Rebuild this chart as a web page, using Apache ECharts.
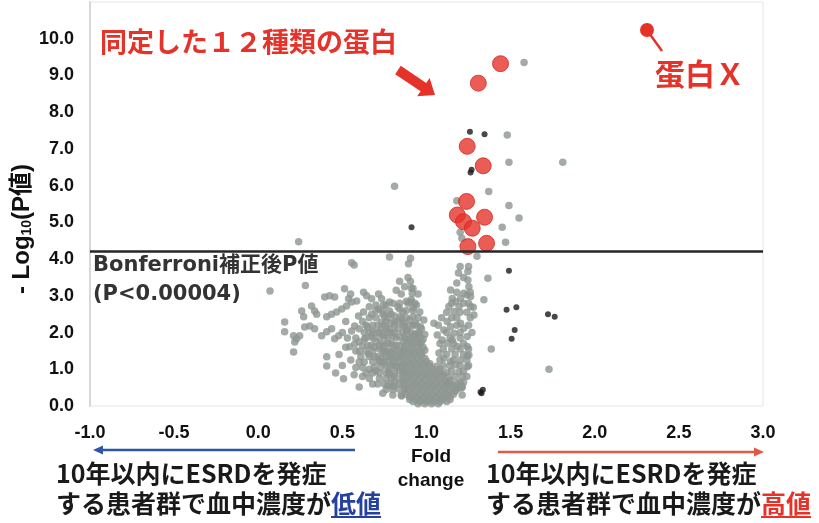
<!DOCTYPE html>
<html>
<head>
<meta charset="utf-8">
<script src="https://cdn.jsdelivr.net/npm/echarts@6/dist/echarts.min.js"></script>
<style>
  html, body { margin: 0; padding: 0; background: #fff; }
  #chart { width: 819px; height: 523px; }
</style>
</head>
<body>
<div id="chart"></div>
<script>
// [fold change, -log10(P)]
const grayUpper = [
  [1.58, 9.35], [1.48, 7.38], [1.49, 6.64], [1.81, 6.64], [0.81, 5.98], [1.37, 5.84],
  [1.49, 5.46], [1.55, 5.12], [1.45, 4.87], [1.47, 4.46], [1.18, 5.59], [1.20, 4.73],
  [1.21, 4.57], [0.24, 4.47], [1.30, 4.08]
];

const grayLeft = [
  [0.07, 3.13], [0.28, 3.28], [0.555, 3.90], [0.57, 3.84], [0.78, 4.06], [0.905, 4.02],
  [0.893, 3.87], [0.84, 3.40], [0.513, 3.19], [0.395, 2.97], [0.424, 3.0], [0.454, 2.97],
  [0.537, 2.92], [0.549, 3.05], [0.626, 3.1], [0.644, 3.0], [0.674, 2.92], [0.715, 3.05],
  [0.733, 2.92], [0.78, 2.83], [0.317, 2.72], [0.335, 2.59], [0.347, 2.5], [0.258, 2.59],
  [0.27, 2.43], [0.157, 2.29], [0.157, 2.02], [0.21, 1.91], [0.228, 1.83], [0.217, 1.74],
  [0.246, 1.91], [0.21, 1.47], [0.276, 2.15], [0.306, 2.18], [0.335, 2.1], [0.407, 2.43],
  [0.436, 2.5], [0.466, 2.56], [0.496, 2.64], [0.525, 2.72], [0.555, 2.83], [0.585, 2.86],
  [0.377, 1.91], [0.407, 2.02], [0.436, 2.1], [0.454, 1.83], [0.478, 1.91], [0.407, 1.34],
  [0.407, 1.09], [0.507, 0.74], [0.60, 0.52], [0.543, 1.61], [0.573, 1.69], [0.602, 1.5],
  [0.632, 1.83], [0.674, 1.91], [0.656, 1.42], [0.69, 1.34], [0.721, 1.23], [0.751, 1.2],
  [0.774, 0.93], [0.804, 0.82], [0.804, 0.54], [0.834, 0.46], [0.852, 0.27], [0.733, 2.29],
  [0.751, 2.45], [0.78, 2.59], [0.84, 2.64], [0.852, 2.37], [0.869, 2.18], [0.715, 2.64],
  [0.674, 2.5], [0.626, 2.56], [0.596, 2.45], [0.573, 2.18], [0.555, 2.04],
  [0.52, 2.30], [0.50, 2.00], [0.53, 1.85], [0.60, 2.10], [0.62, 2.30], [0.65, 2.15],
  [0.68, 2.05], [0.70, 1.75], [0.72, 1.55], [0.74, 1.95], [0.76, 2.10], [0.77, 1.70],
  [0.79, 1.45], [0.81, 2.00], [0.82, 1.65], [0.83, 2.30], [0.86, 2.55], [0.88, 2.85],
  [0.85, 3.05], [0.87, 3.25], [0.82, 3.15], [0.63, 1.20], [0.66, 1.00], [0.70, 0.95],
  [0.72, 0.75], [0.75, 1.45], [0.78, 1.25], [0.80, 1.10], [0.83, 1.30], [0.84, 0.95],
  [0.86, 0.70], [0.81, 0.65], [0.77, 0.55], [0.74, 0.35], [0.68, 0.60], [0.58, 1.05],
  [0.55, 1.25], [0.48, 1.40], [0.50, 1.10], [0.46, 0.90], [0.52, 1.60], [0.57, 0.85],
  [0.62, 0.80], [0.65, 1.65], [0.60, 1.75], [0.69, 1.60], [0.79, 2.25], [0.81, 2.45],
  [0.76, 2.75], [0.70, 2.75], [0.66, 2.70], [0.92, 3.20], [0.89, 3.50], [0.91, 2.90],
  [0.94, 2.75], [0.95, 3.05], [0.905, 3.39], [0.909, 3.21], [0.915, 3.07], [0.83, 2.70],
  [0.905, 2.83], [0.92, 2.67], [0.96, 2.56], [0.745, 2.75], [0.984, 2.34], [0.964, 2.16],
  [0.954, 1.98], [0.92, 2.43], [0.935, 2.26], [0.845, 2.43], [0.863, 2.26], [0.887, 2.07],
  [0.74, 2.50], [0.79, 2.50], [0.76, 2.30], [0.81, 2.30], [0.73, 2.10], [0.78, 2.10],
  [0.83, 2.10], [0.75, 1.90], [0.80, 1.90], [0.84, 1.90], [0.74, 1.70], [0.79, 1.70],
  [0.76, 1.50], [0.81, 1.50], [0.73, 1.30], [0.80, 1.30], [0.76, 1.10], [0.82, 1.10],
  [0.78, 0.90], [0.88, 2.05], [0.92, 2.20], [0.95, 2.40], [0.90, 2.35], [0.97, 2.10],
  [0.93, 1.95], [0.99, 1.95]
];

const grayLeftDense = [
  [0.80, 2.80], [0.84, 2.80], [0.89, 2.80], [0.93, 2.80],
  [0.70, 2.60], [0.74, 2.60], [0.88, 2.60], [0.92, 2.60],
  [0.66, 2.40], [0.70, 2.40], [0.77, 2.40], [0.88, 2.40],
  [0.64, 2.20], [0.68, 2.20], [0.71, 2.20], [0.75, 2.20], [0.81, 2.20], [0.86, 2.20], [0.90, 2.20], [0.94, 2.20],
  [0.63, 2.00], [0.66, 2.00], [0.70, 2.00], [0.72, 2.00], [0.77, 2.00], [0.79, 2.00], [0.86, 2.00], [0.91, 2.00], [0.95, 2.00],
  [0.58, 1.85], [0.64, 1.85], [0.68, 1.85], [0.72, 1.85], [0.77, 1.85], [0.82, 1.85], [0.87, 1.85],
  [0.62, 1.65], [0.67, 1.65], [0.72, 1.65], [0.75, 1.65], [0.80, 1.65], [0.84, 1.65],
  [0.58, 1.50], [0.64, 1.50], [0.68, 1.50], [0.74, 1.50], [0.78, 1.50], [0.83, 1.50], [0.86, 1.50],
  [0.61, 1.35], [0.66, 1.35], [0.71, 1.35], [0.76, 1.35], [0.78, 1.35], [0.82, 1.35], [0.85, 1.35],
  [0.60, 1.20], [0.68, 1.20], [0.72, 1.20], [0.74, 1.20], [0.80, 1.20], [0.84, 1.20],
  [0.62, 1.05], [0.69, 1.05], [0.73, 1.05], [0.78, 1.05], [0.82, 1.05], [0.85, 1.05],
  [0.64, 0.90], [0.68, 0.90], [0.72, 0.90], [0.76, 0.90], [0.81, 0.90], [0.86, 0.90],
  [0.66, 0.75], [0.76, 0.75], [0.79, 0.75], [0.83, 0.75],
  [0.71, 0.60], [0.75, 0.60], [0.79, 0.60], [0.84, 0.60],
  [0.76, 0.45], [0.80, 0.45], [0.87, 0.45],
  [0.80, 0.30], [0.85, 0.30]
];

const grayCore = [
  [0.88, 1.90], [0.92, 1.90], [0.96, 1.90],
  [0.86, 1.75], [0.90, 1.75], [0.94, 1.75], [0.97, 1.75],
  [0.87, 1.60], [0.91, 1.60], [0.95, 1.60], [0.98, 1.60],
  [0.85, 1.45], [0.89, 1.45], [0.93, 1.45], [0.97, 1.45],
  [0.87, 1.30], [0.91, 1.30], [0.95, 1.30], [0.99, 1.30],
  [0.86, 1.15], [0.90, 1.15], [0.94, 1.15], [0.98, 1.15], [1.02, 1.15],
  [0.88, 1.00], [0.92, 1.00], [0.96, 1.00], [1.00, 1.00], [1.04, 1.00], [1.08, 1.00],
  [0.86, 0.85], [0.90, 0.85], [0.94, 0.85], [0.98, 0.85], [1.02, 0.85], [1.06, 0.85], [1.10, 0.85],
  [0.87, 0.70], [0.91, 0.70], [0.95, 0.70], [0.99, 0.70], [1.03, 0.70], [1.07, 0.70], [1.11, 0.70], [1.14, 0.70],
  [0.88, 0.55], [0.92, 0.55], [0.96, 0.55], [1.00, 0.55], [1.04, 0.55], [1.08, 0.55], [1.12, 0.55], [1.16, 0.55],
  [0.89, 0.40], [0.93, 0.40], [0.97, 0.40], [1.01, 0.40], [1.05, 0.40], [1.09, 0.40], [1.13, 0.40], [1.17, 0.40],
  [0.90, 0.25], [0.94, 0.25], [0.98, 0.25], [1.02, 0.25], [1.06, 0.25], [1.10, 0.25], [1.14, 0.25],
  [0.92, 0.12], [0.96, 0.12], [1.00, 0.12], [1.04, 0.12], [1.08, 0.12], [1.12, 0.12],
  [0.90, 1.82], [0.94, 1.82], [0.98, 1.82],
  [0.88, 1.68], [0.92, 1.68], [0.96, 1.68],
  [0.87, 1.52], [0.91, 1.52], [0.95, 1.52], [0.99, 1.52],
  [0.89, 1.38], [0.93, 1.38], [0.97, 1.38],
  [0.88, 1.22], [0.92, 1.22], [0.96, 1.22], [1.00, 1.22],
  [0.86, 1.08], [0.90, 1.08], [0.94, 1.08], [0.98, 1.08], [1.02, 1.08], [1.06, 1.08],
  [0.88, 0.92], [0.92, 0.92], [0.96, 0.92], [1.00, 0.92], [1.04, 0.92], [1.08, 0.92], [1.12, 0.92],
  [0.89, 0.78], [0.93, 0.78], [0.97, 0.78], [1.01, 0.78], [1.05, 0.78], [1.09, 0.78], [1.13, 0.78],
  [0.86, 0.62], [0.90, 0.62], [0.94, 0.62], [0.98, 0.62], [1.02, 0.62], [1.06, 0.62], [1.10, 0.62], [1.14, 0.62], [1.18, 0.62],
  [0.87, 0.48], [0.91, 0.48], [0.95, 0.48], [0.99, 0.48], [1.03, 0.48], [1.07, 0.48], [1.11, 0.48], [1.15, 0.48], [1.19, 0.48],
  [0.88, 0.32], [0.92, 0.32], [0.96, 0.32], [1.00, 0.32], [1.04, 0.32], [1.08, 0.32], [1.12, 0.32], [1.16, 0.32],
  [0.90, 0.18], [0.94, 0.18], [0.98, 0.18], [1.02, 0.18], [1.06, 0.18], [1.10, 0.18], [1.14, 0.18],
  [0.95, 0.06], [0.99, 0.06], [1.03, 0.06], [1.07, 0.06]
];

const grayRight = [
  [1.19, 3.62], [1.18, 3.35], [1.246, 3.66], [1.246, 3.43], [1.252, 3.25], [1.242, 3.02],
  [1.365, 3.48], [1.143, 3.16], [1.153, 2.93], [1.173, 2.84], [1.202, 2.93], [1.222, 3.07],
  [1.262, 2.98], [1.133, 2.71], [1.163, 2.57], [1.193, 2.71], [1.262, 2.71], [1.282, 2.48],
  [1.341, 2.89], [1.123, 2.30], [1.143, 2.16], [1.103, 2.07], [1.163, 1.98], [1.202, 2.25],
  [1.222, 2.12], [1.242, 1.89], [1.044, 2.25], [1.064, 1.93], [1.093, 1.80], [1.123, 1.71],
  [1.153, 1.80], [1.183, 1.62], [1.242, 1.62], [1.252, 1.39], [1.074, 1.44], [1.103, 1.30],
  [1.143, 1.21], [1.173, 1.12], [1.202, 1.25], [1.193, 0.93], [1.212, 0.80], [1.242, 1.07],
  [1.212, 0.53], [1.173, 0.44], [1.123, 0.62], [1.385, 1.55], [1.728, 1.00], [1.242, 1.36],
  [1.212, 0.30], [1.278, 2.69],
  [1.20, 3.80], [1.25, 3.80], [1.22, 3.50], [1.18, 3.10], [1.26, 3.10],
  [1.15, 2.80], [1.22, 2.80], [1.25, 2.80], [1.12, 2.55], [1.20, 2.55], [1.24, 2.55],
  [1.09, 2.40], [1.15, 2.40], [1.18, 2.40], [1.26, 2.40], [1.07, 2.20], [1.18, 2.20], [1.25, 2.20],
  [1.12, 2.00], [1.20, 2.00], [1.27, 2.00], [1.14, 1.85], [1.20, 1.85],
  [1.08, 1.70], [1.16, 1.70], [1.22, 1.70], [1.10, 1.55], [1.15, 1.55], [1.20, 1.55], [1.25, 1.55],
  [1.12, 1.40], [1.17, 1.40], [1.22, 1.40], [1.08, 1.25], [1.16, 1.25], [1.24, 1.25],
  [1.10, 1.10], [1.14, 1.10], [1.20, 1.10], [1.25, 1.10], [1.15, 0.95], [1.22, 0.95],
  [1.17, 0.80], [1.24, 0.80], [1.20, 0.65], [1.22, 0.65], [1.21, 0.50]
];

const redPoints = [
  [1.440, 9.32], [1.308, 8.79], [1.242, 7.07], [1.337, 6.54], [1.238, 5.57], [1.183, 5.20],
  [1.220, 5.02], [1.272, 4.84], [1.345, 5.14], [1.357, 4.43], [1.246, 4.34]
];

const blackPoints = [
  [1.258, 7.47], [1.345, 7.40], [1.262, 6.36], [1.268, 6.43], [0.911, 4.87], [1.490, 3.68],
  [1.476, 2.62], [1.534, 2.69], [1.722, 2.50], [1.762, 2.43], [1.524, 2.07], [1.506, 1.83],
  [1.327, 0.35], [1.321, 0.38], [1.335, 0.44]
];

const bonferroniLine = 4.2;

const titleText = "同定した１２種類の蛋白";
const proteinXText = "蛋白Ｘ";
const bonferroniText = ["Bonferroni補正後P値", "(P<0.00004)"];
const bottomLine1 = "10年以内にESRDを発症";
const bottomLine2 = "する患者群で血中濃度が";

const latin = '"Liberation Sans", Arial, "Noto Sans CJK JP", sans-serif';
const jp = '"Noto Sans CJK JP", sans-serif';
const red = "#e5332a";

const chart = echarts.init(document.getElementById("chart"));

function jpLines(x, word, color) {
  return [
    {
      type: "text", x: x, y: 473,
      style: { text: bottomLine1, font: "bold 25px " + jp, fill: "#1a1a1a", verticalAlign: "middle" }
    },
    {
      type: "text", x: x, y: 503,
      style: {
        text: "{a|" + bottomLine2 + "}{b|" + word + "}",
        verticalAlign: "middle",
        rich: {
          a: { font: "bold 25px " + jp, fill: "#1a1a1a" },
          b: { font: "bold 25px " + jp, fill: color }
        }
      }
    },
    {
      type: "line",
      shape: { x1: x + 11 * 25, y1: 517, x2: x + 13 * 25, y2: 517 },
      style: { stroke: color, lineWidth: 2 }
    }
  ];
}

const option = {
  animation: false,
  backgroundColor: "#fff",
  grid: { left: 90, right: 56, top: 2, bottom: 117, show: true, borderColor: "#e6e6e6", borderWidth: 1 },
  xAxis: {
    type: "value", min: -1, max: 3, interval: 0.5,
    axisLine: { show: false },
    axisTick: { show: false },
    splitLine: { show: false },
    axisLabel: {
      margin: 18, color: "#111", fontSize: 18, fontWeight: "bold", fontFamily: latin,
      formatter: (v) => v.toFixed(1)
    }
  },
  yAxis: {
    type: "value", min: 0, max: 11, interval: 1,
    axisLine: { show: true, onZero: false, lineStyle: { color: "#d8d8d8", width: 2 } },
    axisTick: { show: false },
    splitLine: { show: false },
    axisLabel: {
      margin: 16, color: "#111", fontSize: 18, fontWeight: "bold", fontFamily: latin,
      formatter: (v) => (v > 10 ? "" : v.toFixed(1))
    }
  },
  series: [
    {
      type: "scatter",
      data: grayUpper.concat(grayLeft, grayLeftDense, grayCore, grayRight),
      symbolSize: 7.5,
      itemStyle: { color: "#8d9691" },
      markLine: {
        silent: true,
        symbol: "none",
        label: { show: false },
        lineStyle: { color: "#262626", width: 2.5, type: "solid" },
        data: [{ yAxis: bonferroniLine }]
      },
      z: 2
    },
    {
      type: "scatter",
      data: blackPoints,
      symbolSize: 6,
      itemStyle: { color: "#1a1a1a" },
      z: 3
    },
    {
      type: "scatter",
      data: redPoints,
      symbolSize: 16,
      itemStyle: { color: red, borderColor: "#cf2a22", borderWidth: 1 },
      z: 4
    }
  ],
  graphic: [
    {
      type: "text", x: 100, y: 42,
      style: { text: titleText, font: "bold 27px " + jp, fill: red, verticalAlign: "middle" }
    },
    {
      type: "polygon",
      shape: { points: [[400.8, 65.8], [426.2, 82.9], [429.6, 78], [435, 95], [417.2, 96.2], [420.6, 91.3], [395.2, 74.2]] },
      style: { fill: red }
    },
    {
      type: "line",
      shape: { x1: 649, y1: 33, x2: 662, y2: 51 },
      style: { stroke: red, lineWidth: 2.5 }
    },
    { type: "circle", shape: { cx: 647, cy: 30, r: 7 }, style: { fill: red } },
    {
      type: "text", x: 655, y: 74,
      style: { text: proteinXText, font: "bold 30px " + jp, fill: red, verticalAlign: "middle" }
    },
    {
      type: "text", x: 93, y: 266,
      style: { text: bonferroniText[0], font: 'bold 21px "DejaVu Sans", "Noto Sans CJK JP", sans-serif', fill: "#333", verticalAlign: "middle" }
    },
    {
      type: "text", x: 93, y: 295,
      style: { text: bonferroniText[1], font: 'bold 21px "DejaVu Sans", sans-serif', fill: "#333", verticalAlign: "middle" }
    },
    {
      type: "text", x: 22, y: 229, rotation: Math.PI / 2,
      style: {
        text: "{a|- Log}{s|10}{a|(P値)}",
        align: "center", verticalAlign: "middle",
        rich: {
          a: { font: "bold 24px " + latin, fill: "#111" },
          s: { font: "bold 14px " + latin, fill: "#111", verticalAlign: "bottom" }
        }
      }
    },
    {
      type: "text", x: 431, y: 457,
      style: { text: "Fold", font: "bold 19px " + latin, fill: "#111", align: "center", verticalAlign: "middle" }
    },
    {
      type: "text", x: 431, y: 481,
      style: { text: "change", font: "bold 19px " + latin, fill: "#111", align: "center", verticalAlign: "middle" }
    },
    {
      type: "line",
      shape: { x1: 100, y1: 450, x2: 355, y2: 450 },
      style: { stroke: "#2f55a4", lineWidth: 2.5 }
    },
    { type: "polygon", shape: { points: [[93, 450], [103, 445.5], [103, 454.5]] }, style: { fill: "#2f55a4" } },
    {
      type: "line",
      shape: { x1: 498, y1: 452, x2: 756, y2: 452 },
      style: { stroke: "#e05a45", lineWidth: 2.5 }
    },
    { type: "polygon", shape: { points: [[764, 452], [754, 447.5], [754, 456.5]] }, style: { fill: "#e05a45" } }
  ].concat(jpLines(56, "低値", "#2441a0"), jpLines(486, "高値", red))
};

chart.setOption(option);
</script>
</body>
</html>
